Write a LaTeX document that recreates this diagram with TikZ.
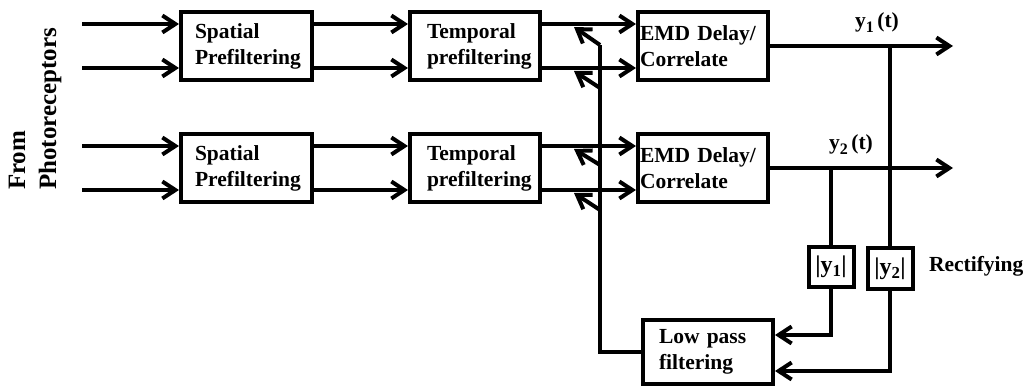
\documentclass[tikz,border=0pt]{standalone}
\usepackage{fontspec}
\setmainfont{Liberation Serif}
\usetikzlibrary{arrows.meta}
\hyphenpenalty=10000
\newcommand{\lowsub}[1]{\raisebox{-5pt}{\fontsize{16}{16}\selectfont #1}}
\begin{document}
\begin{tikzpicture}[x=1pt,y=-1pt,line width=4pt,
  txt/.style={font=\bfseries\fontsize{21.5}{26}\selectfont},
  lbl/.style={txt,inner sep=0pt,anchor=base west},
  box/.style={draw,txt,line width=4pt,inner xsep=0pt,inner ysep=0pt,minimum height=68pt,align=left},
  sbox/.style={draw,font=\bfseries\fontsize{24}{26}\selectfont,line width=4pt,inner sep=0pt,minimum width=45pt,minimum height=40pt},
  arr/.style={-{Straight Barb[length=13pt,width=17pt]}}]
\useasboundingbox (0,0) rectangle (1023,387);
% boxes
\node[box,minimum width=131pt,text width=103pt] (S1) at (246.5,46) {Spatial\\Prefiltering};
\node[box,minimum width=131pt,text width=103pt] (S2) at (246.5,168) {Spatial\\Prefiltering};
\node[box,minimum width=130pt,text width=96pt] (T1) at (475,46) {Temporal\\prefiltering};
\node[box,minimum width=130pt,text width=96pt] (T2) at (475,168) {Temporal\\prefiltering};
\node[box,minimum width=130pt,text width=126pt] (E1) at (703,46) {EMD Delay/\\Correlate};
\node[box,minimum width=130pt,text width=126pt] (E2) at (703,168) {EMD Delay/\\Correlate};
\node[sbox] (R1) at (831,267) {|y\textsubscript{1}|};
\node[sbox,minimum height=41pt] (R2) at (890,269) {|y\textsubscript{2}|};
\node[box,minimum width=130pt,minimum height=64pt,text width=98pt] (LP) at (708,352) {Low pass\\filtering};
% labels
\node[lbl] (y1l) at (853,28) {y\lowsub{1}\,(t)};
\node[lbl] (y2l) at (827,150) {y\lowsub{2}\,(t)};
\node[lbl] (rect) at (927,272) {Rectifying};
\node[font=\bfseries\fontsize{25}{31}\selectfont,rotate=90,align=left] (from) at (35,109) {From\\Photoreceptors};
% coordinates
\coordinate (in1) at (82,24);
\coordinate (in2) at (82,68);
\coordinate (in3) at (82,146);
\coordinate (in4) at (82,190);
\coordinate (o1) at (953,46);
\coordinate (o2) at (953,168);
\coordinate (d1) at (600,45);
\coordinate (d2) at (600,88);
\coordinate (d3) at (600,165);
\coordinate (d4) at (600,210);
\coordinate (t1) at (574,27);
\coordinate (t2) at (574,71);
\coordinate (t3) at (574,149);
\coordinate (t4) at (574,193);
\coordinate (l1) at (0,335);
\coordinate (l2) at (0,371);
% inputs
\draw[arr] (in1) -- (S1.west |- in1);
\draw[arr] (in2) -- (S1.west |- in2);
\draw[arr] (in3) -- (S2.west |- in3);
\draw[arr] (in4) -- (S2.west |- in4);
% spatial -> temporal
\draw[arr] (S1.east |- in1) -- (T1.west |- in1);
\draw[arr] (S1.east |- in2) -- (T1.west |- in2);
\draw[arr] (S2.east |- in3) -- (T2.west |- in3);
\draw[arr] (S2.east |- in4) -- (T2.west |- in4);
% temporal -> EMD
\draw[arr] (T1.east |- in1) -- (E1.west |- in1);
\draw[arr] (T1.east |- in2) -- (E1.west |- in2);
\draw[arr] (T2.east |- in3) -- (E2.west |- in3);
\draw[arr] (T2.east |- in4) -- (E2.west |- in4);
% outputs
\draw[arr] (E1.east) -- (o1);
\draw[arr] (E2.east) -- (o2);
% taps
\draw (R1.north |- E2.east) -- (R1.north);
\draw (R2.north |- E1.east) -- (R2.north);
\draw[arr] (R1.south) |- (LP.east |- l1);
\draw[arr] (R2.south) |- (LP.east |- l2);
% feedback
\draw (LP.west) -| (d1);
\draw[arr] (d1) -- (t1);
\draw[arr] (d2) -- (t2);
\draw[arr] (d3) -- (t3);
\draw[arr] (d4) -- (t4);
\end{tikzpicture}
\end{document}
